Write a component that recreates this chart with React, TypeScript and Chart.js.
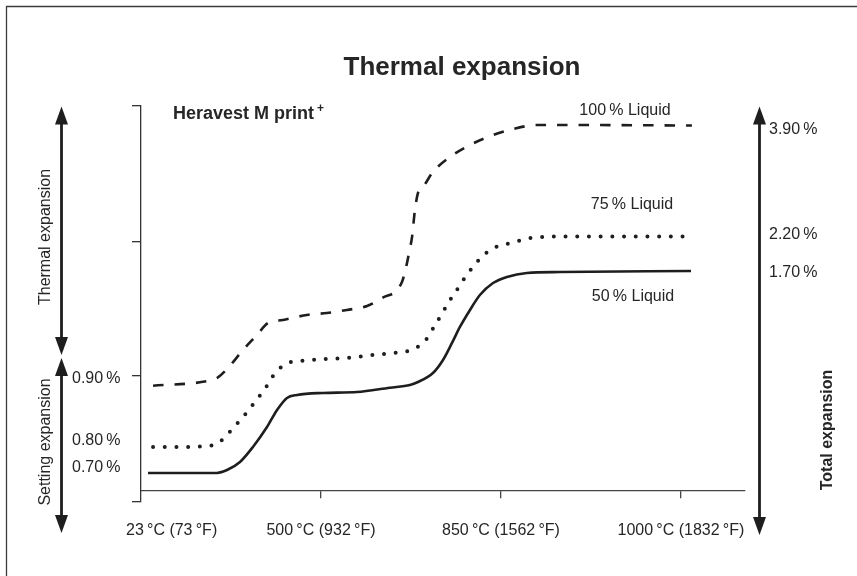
import React, { useEffect, useRef } from "react";
import { Chart, registerables } from "chart.js";

Chart.register(...registerables);

// Schematic axes: x = position on the temperature axis (ticks 0..3), y = relative expansion height (ticks 0..3)
const xTickValues = [1, 2, 3];
const xLabelValues = [0.17, 1, 2, 3];
const xTickLabels = [
  "23\u2009°C (73\u2009°F)",
  "500\u2009°C (932\u2009°F)",
  "850\u2009°C (1562\u2009°F)",
  "1000\u2009°C (1832\u2009°F)",
];
const yTickValues = [0, 0.955, 1.97, 3];
const xAxisLevel = 0.083;

const seriesNames = ["100\u2009% Liquid", "75\u2009% Liquid", "50\u2009% Liquid"];
const startLabels = ["0.90\u2009%", "0.80\u2009%", "0.70\u2009%"];
const endLabels = ["3.90\u2009%", "2.20\u2009%", "1.70\u2009%"];

const liquid100X = [0.067, 0.372, 0.422, 0.483, 0.567, 0.644, 0.706, 0.789, 0.922, 1.033, 1.144, 1.256, 1.339, 1.45, 1.478, 1.489, 1.506, 1.522, 1.539, 1.567, 1.622, 1.717, 1.828, 1.956, 2.067, 2.2, 2.439, 3.061];
const liquid100Y = [0.881, 0.917, 0.939, 1.015, 1.152, 1.265, 1.356, 1.379, 1.417, 1.432, 1.455, 1.485, 1.545, 1.667, 1.811, 1.886, 2.008, 2.212, 2.341, 2.386, 2.5, 2.614, 2.705, 2.78, 2.826, 2.856, 2.856, 2.852];

const liquid75X = [0.067, 0.217, 0.367, 0.428, 0.478, 0.522, 0.567, 0.611, 0.65, 0.689, 0.722, 0.761, 0.817, 0.883, 1.011, 1.144, 1.289, 1.4, 1.483, 1.544, 1.6, 1.633, 1.672, 1.706, 1.744, 1.783, 1.822, 1.867, 1.917, 1.972, 2.033, 2.094, 2.161, 2.233, 2.367, 3.061];
const liquid75Y = [0.417, 0.417, 0.424, 0.447, 0.508, 0.576, 0.644, 0.72, 0.788, 0.856, 0.932, 1.0, 1.053, 1.068, 1.083, 1.091, 1.114, 1.129, 1.144, 1.182, 1.258, 1.341, 1.424, 1.508, 1.583, 1.667, 1.742, 1.818, 1.886, 1.932, 1.955, 1.977, 2.0, 2.008, 2.012, 2.012];

const liquid50X = [0.039, 0.422, 0.478, 0.55, 0.622, 0.7, 0.756, 0.811, 0.867, 1.011, 1.2, 1.383, 1.494, 1.539, 1.622, 1.678, 1.728, 1.772, 1.828, 1.883, 1.956, 2.033, 2.144, 2.328, 3.056];
const liquid50Y = [0.22, 0.22, 0.242, 0.303, 0.417, 0.568, 0.697, 0.788, 0.811, 0.826, 0.833, 0.866, 0.886, 0.909, 0.977, 1.076, 1.205, 1.326, 1.455, 1.568, 1.659, 1.705, 1.735, 1.742, 1.75];

const FONT = '"Liberation Sans", Arial, Helvetica, sans-serif';
const INK = "#1e1e1e";
const TEXT = "#262626";

const toPoints = (xs: number[], ys: number[]) => xs.map((x, i) => ({ x, y: ys[i] }));

function drawArrow(ctx: CanvasRenderingContext2D, x: number, yTop: number, yBottom: number) {
  const hl = 18;
  const hw = 6.5;
  ctx.lineWidth = 2.8;
  ctx.beginPath();
  ctx.moveTo(x, yTop + hl - 2);
  ctx.lineTo(x, yBottom - hl + 2);
  ctx.stroke();
  ctx.beginPath();
  ctx.moveTo(x, yTop);
  ctx.lineTo(x - hw, yTop + hl);
  ctx.lineTo(x + hw, yTop + hl);
  ctx.closePath();
  ctx.fill();
  ctx.beginPath();
  ctx.moveTo(x, yBottom);
  ctx.lineTo(x - hw, yBottom - hl);
  ctx.lineTo(x + hw, yBottom - hl);
  ctx.closePath();
  ctx.fill();
}

function rotatedText(ctx: CanvasRenderingContext2D, text: string, cx: number, cy: number, font: string) {
  ctx.save();
  ctx.translate(cx, cy);
  ctx.rotate(-Math.PI / 2);
  ctx.font = font;
  ctx.textAlign = "center";
  ctx.textBaseline = "middle";
  ctx.fillText(text, 0, 0);
  ctx.restore();
}

const annotationPlugin = {
  id: "annotations",
  afterDraw(chart: any) {
    const ctx: CanvasRenderingContext2D = chart.ctx;
    const xs = chart.scales.x;
    const ys = chart.scales.y;
    const series = [
      { xs: liquid100X, ys: liquid100Y },
      { xs: liquid75X, ys: liquid75Y },
      { xs: liquid50X, ys: liquid50Y },
    ];
    ctx.save();

    // frame (top and left)
    ctx.strokeStyle = "#3c3c3c";
    ctx.lineWidth = 1.3;
    ctx.beginPath();
    ctx.moveTo(6.5, chart.height);
    ctx.lineTo(6.5, 6.5);
    ctx.lineTo(chart.width, 6.5);
    ctx.stroke();

    ctx.fillStyle = TEXT;

    // title
    ctx.font = `bold 26px ${FONT}`;
    ctx.textAlign = "center";
    ctx.textBaseline = "alphabetic";
    ctx.fillText("Thermal expansion", 462, 75);

    // product label
    ctx.textAlign = "left";
    ctx.font = `bold 18px ${FONT}`;
    ctx.fillText("Heravest M print", 173, 119);
    const w = ctx.measureText("Heravest M print").width;
    ctx.font = `bold 12px ${FONT}`;
    ctx.fillText("+", 173 + w + 3, 112);

    // x tick labels
    ctx.font = `16px ${FONT}`;
    ctx.textAlign = "center";
    ctx.textBaseline = "middle";
    xTickLabels.forEach((t, i) => {
      ctx.fillText(t, xs.getPixelForValue(xLabelValues[i]), 531);
    });

    // series labels
    const nameOffsets = [-15, -32, 26];
    const nameCenters = [625, 632, 633];
    seriesNames.forEach((t, i) => {
      const s = series[i];
      const y = ys.getPixelForValue(s.ys[s.ys.length - 1]) + nameOffsets[i];
      ctx.fillText(t, nameCenters[i], y);
    });

    // end labels (right)
    ctx.textAlign = "left";
    const endOffsets = [4, -2, 2];
    endLabels.forEach((t, i) => {
      const s = series[i];
      const y = ys.getPixelForValue(s.ys[s.ys.length - 1]) + endOffsets[i];
      ctx.fillText(t, 769, y);
    });

    // start labels (left)
    const startOffsets = [-7, -6, -5];
    startLabels.forEach((t, i) => {
      const s = series[i];
      const y = ys.getPixelForValue(s.ys[0]) + startOffsets[i];
      ctx.fillText(t, 72, y);
    });

    // arrows
    ctx.strokeStyle = INK;
    ctx.fillStyle = INK;
    drawArrow(ctx, 61.5, 106.5, 355);
    drawArrow(ctx, 61.5, 358, 533);
    drawArrow(ctx, 759.5, 106.5, 535);

    // rotated captions
    ctx.fillStyle = TEXT;
    rotatedText(ctx, "Thermal expansion", 46, 237, `16px ${FONT}`);
    rotatedText(ctx, "Setting expansion", 46, 442, `16px ${FONT}`);
    rotatedText(ctx, "Total expansion", 828, 430, `bold 16px ${FONT}`);

    ctx.restore();
  },
};

export default function App() {
  const canvasRef = useRef<HTMLCanvasElement | null>(null);

  useEffect(() => {
    if (!canvasRef.current) return;
    const chart = new Chart(canvasRef.current, {
      type: "line",
      data: {
        datasets: [
          {
            label: seriesNames[0],
            data: toPoints(liquid100X, liquid100Y),
            borderColor: INK,
            borderWidth: 2.6,
            borderDash: [10.5, 11],
            pointRadius: 0,
            fill: false,
            cubicInterpolationMode: "monotone",
          },
          {
            label: seriesNames[1],
            data: toPoints(liquid75X, liquid75Y),
            borderColor: INK,
            borderWidth: 4,
            borderDash: [0, 11.7],
            borderCapStyle: "round",
            pointRadius: 0,
            fill: false,
            cubicInterpolationMode: "monotone",
          },
          {
            label: seriesNames[2],
            data: toPoints(liquid50X, liquid50Y),
            borderColor: INK,
            borderWidth: 2.6,
            pointRadius: 0,
            fill: false,
            cubicInterpolationMode: "monotone",
          },
        ],
      },
      options: {
        animation: false,
        responsive: false,
        maintainAspectRatio: false,
        devicePixelRatio: 1,
        layout: { padding: { left: 131, top: 106, right: 112, bottom: 74 } },
        plugins: {
          legend: { display: false },
          tooltip: { enabled: false },
          title: { display: false },
        },
        scales: {
          x: {
            type: "linear",
            position: { y: xAxisLevel } as any,
            min: 0,
            max: 3.356,
            afterBuildTicks: (scale: any) => {
              scale.ticks = xTickValues.map((v) => ({ value: v }));
            },
            ticks: { display: false },
            grid: { drawOnChartArea: false, drawTicks: true, tickLength: 7, color: "#444", lineWidth: 1.3 },
            border: { display: true, color: "#444", width: 1.3 },
          },
          y: {
            type: "linear",
            position: "left",
            min: 0,
            max: 3,
            afterBuildTicks: (scale: any) => {
              scale.ticks = yTickValues.map((v) => ({ value: v }));
            },
            afterFit: (scale: any) => {
              scale.width = 10;
            },
            ticks: { display: false },
            grid: { drawOnChartArea: false, drawTicks: true, tickLength: 9, color: "#333", lineWidth: 1.3 },
            border: { display: true, color: "#333", width: 1.3 },
          },
        },
      },
      plugins: [annotationPlugin],
    } as any);
    return () => chart.destroy();
  }, []);

  return (
    <div style={{ position: "fixed", left: 0, top: 0, width: 857, height: 576, background: "#fff" }}>
      <canvas ref={canvasRef} width={857} height={576} style={{ display: "block", width: 857, height: 576 }} />
    </div>
  );
}
